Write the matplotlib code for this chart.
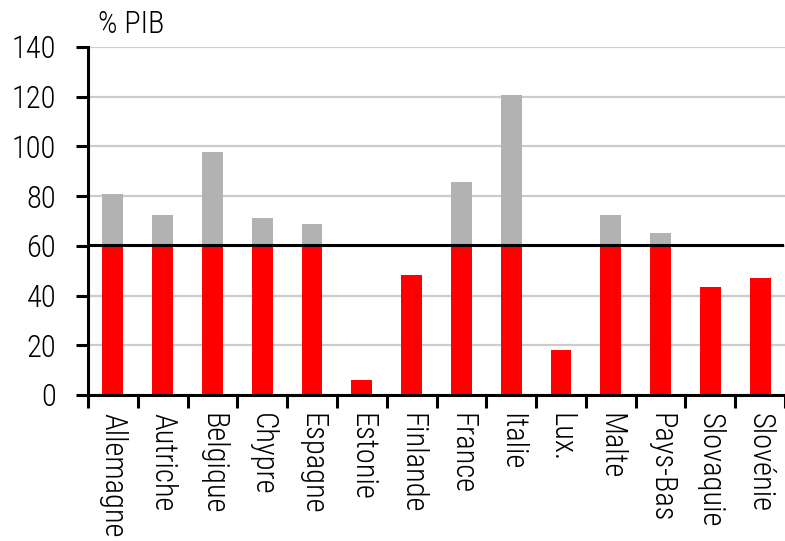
import numpy as np
import matplotlib.pyplot as plt

pays = ['Allemagne', 'Autriche', 'Belgique', 'Chypre', 'Espagne', 'Estonie',
        'Finlande', 'France', 'Italie', 'Lux.', 'Malte', 'Pays-Bas',
        'Slovaquie', 'Slovénie']
dette = [81, 72.5, 97.8, 71.3, 68.8, 6.0, 48.3, 85.7, 120.8, 18.1, 72.5,
         65.2, 43.5, 47.1]
seuil = 60

plt.rcParams['font.family'] = ['Roboto Condensed', 'DejaVu Sans Condensed',
                               'Liberation Sans Narrow', 'Roboto', 'DejaVu Sans']
plt.rcParams['font.weight'] = 'light'

dette = np.array(dette)
x = np.arange(len(pays))
sous = np.minimum(dette, seuil)
dessus = np.maximum(dette - seuil, 0)

fig = plt.figure(figsize=(7.85, 5.41), dpi=100)
ax = fig.add_axes([88 / 785, 1 - 395 / 541, 697 / 785, 348 / 541])

ax.bar(x, sous, width=0.42, color='#ff0000', zorder=2)
ax.bar(x, dessus, bottom=sous, width=0.42, color='#b2b2b2', zorder=2)
ax.axhline(seuil + 0.5, color='black', lw=2.2, xmax=0.995, zorder=3)

ax.set_ylim(0, 140)
ax.set_xlim(-0.5, len(pays) - 0.5)
ax.set_yticks(np.arange(0, 141, 20))
ax.yaxis.grid(True, color='#cccccc', lw=1.6, zorder=0)
ax.set_axisbelow(True)

ax.set_xticks(np.arange(-0.5, len(pays), 1))
ax.set_xticklabels([])
ax.set_xticks(x, minor=True)
ax.set_xticklabels(pays, minor=True, rotation=270, fontsize=22)
ax.tick_params(axis='x', which='major', length=9, width=2.2, direction='out')
ax.tick_params(axis='x', which='minor', length=0, pad=13)
ax.tick_params(axis='y', length=9, width=2.2, direction='out', pad=14,
               labelsize=22)

for s in ['top', 'right']:
    ax.spines[s].set_visible(False)
for s in ['left', 'bottom']:
    ax.spines[s].set_linewidth(2.2)

fig.text(98 / 785, 1 - 33 / 541, '% PIB', fontsize=22, va='baseline')

plt.savefig('out.png', dpi=100)
